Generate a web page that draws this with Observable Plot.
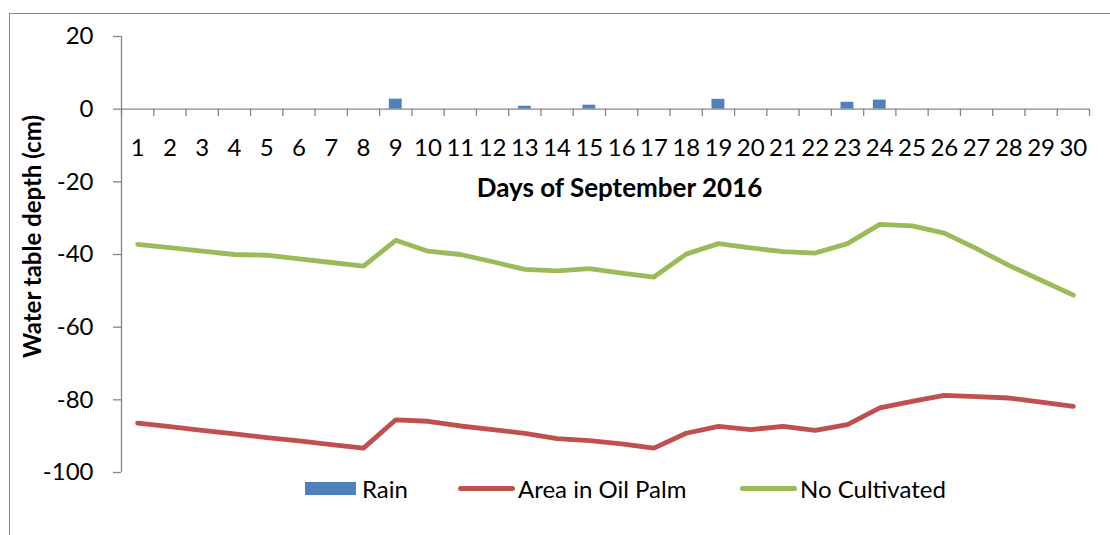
<!DOCTYPE html>
<html>
<head>
<meta charset="utf-8">
<script src="https://cdn.jsdelivr.net/npm/d3@7"></script>
<script src="https://cdn.jsdelivr.net/npm/@observablehq/plot@0.6"></script>
<style>
  html, body { margin: 0; padding: 0; background: #fff; }
  #wrap { position: relative; width: 1110px; height: 535px; overflow: hidden; font-family: Lato, "Open Sans", sans-serif; }
  #frame { position: absolute; left: 9px; top: 13px; width: 1200px; height: 600px; border-left: 1px solid #898989; border-top: 1px solid #898989; pointer-events: none; }
  #legend { position: absolute; left: 0; top: 473px; width: 1110px; height: 30px; font-size: 24px; color: #000; }
  .item { position: absolute; top: 0; height: 30px; display: flex; align-items: center; white-space: nowrap; }
  .sw-rect { width: 51px; height: 13px; background: #4F81BD; margin-right: 6px; }
  .sw-line { width: 57px; height: 5px; border-radius: 3px; margin-right: 3px; }
  #chart svg { display: block; }
</style>
</head>
<body>
<div id="wrap">
  <div id="chart"></div>
  <div id="frame"></div>
  <div id="legend"></div>
</div>
<script>
const days = d3.range(1, 31);
const rain = [0,0,0,0,0,0,0,0,2.75,0,0,0,0.8,0,1.1,0,0,0,2.7,0,0,0,1.9,2.5,0,0,0,0,0,0];
const oilPalm = [-86.4,-87.4,-88.4,-89.4,-90.4,-91.3,-92.3,-93.3,-85.5,-85.9,-87.2,-88.2,-89.2,-90.7,-91.2,-92.1,-93.3,-89.2,-87.3,-88.2,-87.3,-88.4,-86.8,-82.2,-80.4,-78.8,-79.1,-79.5,-80.6,-81.8];
const noCultivated = [-37.2,-38.1,-39.1,-40.0,-40.2,-41.2,-42.2,-43.2,-36.1,-39.1,-40.0,-42.0,-44.1,-44.5,-43.9,-45.1,-46.2,-39.9,-37.0,-38.2,-39.2,-39.6,-37.0,-31.7,-32.1,-34.1,-38.4,-43.0,-47.1,-51.2];
const yTicks = [20, 0, -20, -40, -60, -80, -100];
const seriesNames = ["Rain", "Area in Oil Palm", "No Cultivated"];
const colors = ["#4F81BD", "#C0504D", "#9BBB59"];
const xTitle = "Days of September 2016";
const yTitle = "Water table depth (cm)";

const rainData = days.map((d, i) => ({day: d, value: rain[i]})).filter(d => d.value > 0);
const palmData = days.map((d, i) => ({day: d, value: oilPalm[i]}));
const noCultData = days.map((d, i) => ({day: d, value: noCultivated[i]}));
const boundaries = d3.range(0.5, 31, 1);
const axisGray = "#868686";
const barHalf = 0.2;

const chart = Plot.plot({
  width: 1110,
  height: 535,
  marginLeft: 121,
  marginRight: 21,
  marginTop: 36,
  marginBottom: 63,
  style: {fontFamily: "Lato, 'Open Sans', sans-serif", background: "transparent"},
  x: {domain: [0.5, 30.5], axis: null},
  y: {domain: [-100, 20], axis: null},
  marks: [
    Plot.rectY(rainData, {x1: d => d.day - barHalf, x2: d => d.day + barHalf, y1: 0, y2: "value", fill: colors[0]}),
    Plot.ruleY([0], {stroke: axisGray, strokeWidth: 1.3}),
    Plot.ruleX(boundaries, {x: d => d, y1: 0, y2: -2, stroke: axisGray, strokeWidth: 1.3}),
    Plot.ruleX([0.5], {y1: -100, y2: 20, stroke: axisGray, strokeWidth: 1.3}),
    Plot.axisY(yTicks, {anchor: "left", tickSize: 8, tickPadding: 20, fontSize: 24, stroke: axisGray, color: "#000", strokeWidth: 1.3, label: null, tickFormat: d => String(d)}),
    Plot.text(days, {x: d => d, y: 0, dy: 39, text: d => String(d), fontSize: 24, fill: "#000"}),
    Plot.line(palmData, {x: "day", y: "value", stroke: colors[1], strokeWidth: 4.8, strokeLinecap: "round", strokeLinejoin: "round"}),
    Plot.line(noCultData, {x: "day", y: "value", stroke: colors[2], strokeWidth: 4.8, strokeLinecap: "round", strokeLinejoin: "round"}),
    Plot.text([xTitle], {frameAnchor: "top", lineAnchor: "middle", textAnchor: "middle", dx: 14, dy: 152, text: d => d, fontSize: 26, fontWeight: "bold", fill: "#000"}),
    Plot.text([yTitle], {frameAnchor: "left", textAnchor: "middle", lineAnchor: "middle", dx: -88, dy: -18, rotate: -90, text: d => d, fontSize: 24, fontWeight: "bold", fill: "#000"})
  ]
});
document.getElementById("chart").appendChild(chart);

const legend = document.getElementById("legend");
const legendLefts = [305, 458, 740];
seriesNames.forEach((name, i) => {
  const item = document.createElement("div");
  item.className = "item";
  item.style.left = legendLefts[i] + "px";
  const sw = document.createElement("div");
  sw.className = i === 0 ? "sw-rect" : "sw-line";
  sw.style.background = colors[i];
  item.appendChild(sw);
  const t = document.createElement("span");
  t.textContent = name;
  item.appendChild(t);
  legend.appendChild(item);
});
</script>
</body>
</html>
